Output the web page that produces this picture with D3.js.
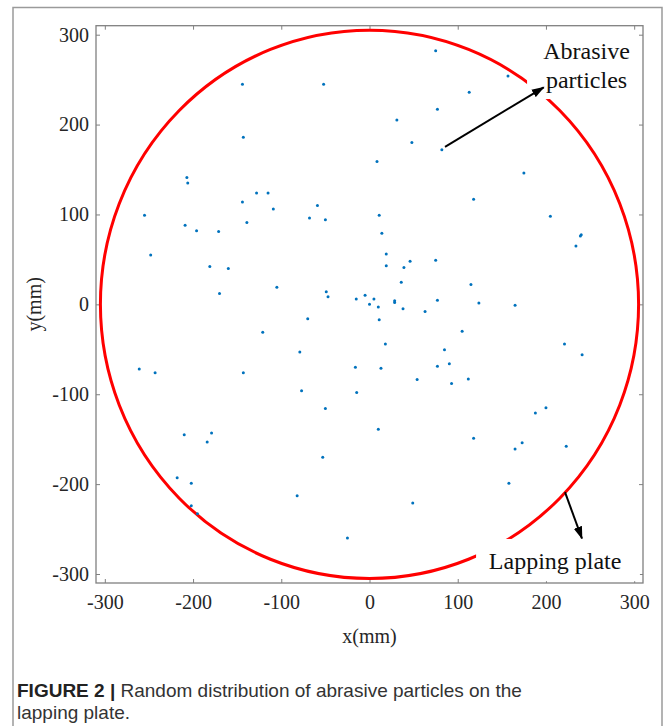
<!DOCTYPE html>
<html>
<head>
<meta charset="utf-8">
<script src="https://cdn.jsdelivr.net/npm/d3@7"></script>
<style>
    body { margin: 0; background: #fff; }
</style>
</head>
<body>
<div id="plateSection"></div>
<script>
/**
 * Particle positions on the lapping plate (mm)
 */
const particleX = [
    -144, -52, -143, -207, -206, -128, -115, -144, -59, -109,
    -255, -68, -50, -139, -209, -196, -171, -248, -181, -160,
    -105, -49, -47, -170, -15, -5, 0,
    75, 157, 113, 77, 31, 48, 82, 8.5, 175, 118,
    11, 205, 14, 240, 239, 234, 19, 19, 46, 39,
    75, 36, 115, 5, 28.5, 28.5, 77, 10, 38, 124, 165,
    63, 11, 105, 18, 221, 241, 85, 90.5, 77, 13,
    54, 93, 112, 188, 200, 10, 118, 165, 173, 223, 158, 49,
    -70, -121, -79, -261, -243, -143, -16, -77, -14.5, -50,
    -210, -179, -184, -53, -218, -202, -202, -195, -82, -25
];
const particleY = [
    245, 245, 186, 141, 135, 124, 124, 114, 110, 106,
    99, 96, 94, 91, 88, 82, 81, 55, 42, 40,
    19, 14, 8.5, 12, 6, 10, 0,
    282, 254, 236, 217, 205, 180, 172, 159, 146, 117,
    99, 98, 79, 77.5, 76, 65, 56, 43, 48, 41,
    49, 24.5, 22, 6, 4, 2, 4.5, -3, -5, 1.5, -1,
    -8, -17, -30, -44, -44, -56, -50.5, -66, -69, -71,
    -83.5, -88, -83, -121, -115, -139, -149, -161, -154, -158, -199, -221,
    -16, -31, -53, -72, -76, -76, -70, -96, -98, -116,
    -145, -143, -153, -170, -193, -199, -224, -233, -213, -260
];

/**
 * Plate and axis values
 */
const plateRadius = 305;
const axisDomain = [-310, 310];
const tickValues = [-300, -200, -100, 0, 100, 200, 300];

/**
 * Annotation texts and positions (mm)
 */
const particleLabel = ["Abrasive", "particles"];
const particleLabelAt = [246, 273, 241];
const particleArrow = [[85.6, 175.3], [197.5, 241.5]];
const particleBox = [178.6, 296, 306.5, 228.4];

const plateLabel = "Lapping plate";
const plateLabelAt = [210.4, -294];
const plateArrow = [[221.6, -209], [240.8, -260.5]];
const plateBox = [120.8, -261, 306.5, -308];

const captionBold = "FIGURE 2 |";
const captionLines = [" Random distribution of abrasive particles on the", "lapping plate."];

/**
 * Proportions of the SVG
 */
let svgWidth = 665;
let svgHeight = 726;

let plotLeft = 96;
let plotRight = 643;
let plotTop = 25.7;
let plotBottom = 583;

let fontSize = 20;
let serif = "'Liberation Serif', 'Times New Roman', serif";
let sans = "'Liberation Sans', Arial, Helvetica, sans-serif";

const x = d3.scaleLinear().domain(axisDomain).range([plotLeft, plotRight]);
const y = d3.scaleLinear().domain(axisDomain).range([plotBottom, plotTop]);

initSVG();
drawAxes();
drawPlate();
drawParticles();
drawAnnotations();
drawCaption();

/**
 * Initialize the SVG, the frame and the arrow marker
 */
function initSVG() {
    const svg = d3.select("#plateSection")
        .append("svg")
        .attr("id", "plateSvg")
        .attr("width", svgWidth)
        .attr("height", svgHeight);

    // figure frame
    svg.append("rect")
        .attr("x", 13)
        .attr("y", 7.5)
        .attr("width", 649)
        .attr("height", svgHeight + 10)
        .attr("fill", "none")
        .attr("stroke", "#9a9a9a")
        .attr("stroke-width", 1.5);

    svg.append("defs").append("marker")
        .attr("id", "arrowHead")
        .attr("viewBox", "0 0 12 8")
        .attr("refX", 11)
        .attr("refY", 4)
        .attr("markerUnits", "userSpaceOnUse")
        .attr("markerWidth", 13)
        .attr("markerHeight", 9)
        .attr("orient", "auto")
        .append("path")
        .attr("d", "M0,0 L12,4 L0,8 Z")
        .attr("fill", "black");
}

/**
 * Draws the axis box, the inward ticks and the labels
 */
function drawAxes() {
    const svg = d3.select("#plateSvg");
    // plain hyphen for negatives, like the original
    const fmt = d => String(d);

    const bottom = svg.append("g")
        .attr("transform", `translate(0,${plotBottom})`)
        .call(d3.axisBottom(x).tickValues(tickValues).tickSize(-4).tickPadding(12).tickFormat(fmt));
    const left = svg.append("g")
        .attr("transform", `translate(${plotLeft},0)`)
        .call(d3.axisLeft(y).tickValues(tickValues).tickSize(-4).tickPadding(7).tickFormat(fmt));
    const top = svg.append("g")
        .attr("transform", `translate(0,${plotTop})`)
        .call(d3.axisTop(x).tickValues(tickValues).tickSize(-4).tickFormat(""));
    const right = svg.append("g")
        .attr("transform", `translate(${plotRight},0)`)
        .call(d3.axisRight(y).tickValues(tickValues).tickSize(-4).tickFormat(""));

    [bottom, left, top, right].forEach(g => {
        g.select(".domain").remove();
        g.selectAll(".tick line").attr("stroke", "#808080").attr("stroke-width", 1);
        g.selectAll(".tick text")
            .attr("fill", "#262626")
            .attr("font-family", serif)
            .attr("font-size", fontSize);
    });

    svg.append("rect")
        .attr("x", plotLeft)
        .attr("y", plotTop)
        .attr("width", plotRight - plotLeft)
        .attr("height", plotBottom - plotTop)
        .attr("fill", "none")
        .attr("stroke", "#808080")
        .attr("stroke-width", 1.3);

    svg.append("text")
        .attr("x", x(0))
        .attr("y", 643)
        .attr("text-anchor", "middle")
        .attr("font-family", serif)
        .attr("font-size", fontSize)
        .attr("fill", "#262626")
        .text("x(mm)");

    svg.append("text")
        .attr("transform", `translate(41,${y(0)}) rotate(-90)`)
        .attr("text-anchor", "middle")
        .attr("font-family", serif)
        .attr("font-size", fontSize)
        .attr("fill", "#262626")
        .text("y(mm)");
}

/**
 * Draws the plate outline
 */
function drawPlate() {
    d3.select("#plateSvg").append("ellipse")
        .attr("cx", x(0))
        .attr("cy", y(0))
        .attr("rx", x(plateRadius) - x(0))
        .attr("ry", y(0) - y(plateRadius))
        .attr("fill", "none")
        .attr("stroke", "#ff0000")
        .attr("stroke-width", 3);
}

/**
 * Draws the particles
 */
function drawParticles() {
    d3.select("#plateSvg").append("g")
        .selectAll("circle")
        .data(particleX)
        .enter()
        .append("circle")
        .attr("cx", d => x(d))
        .attr("cy", (_, i) => y(particleY[i]))
        .attr("r", 1.5)
        .attr("fill", "#0072bd");
}

/**
 * Draws the labels, their white boxes and arrows
 */
function drawAnnotations() {
    const svg = d3.select("#plateSvg");

    [particleBox, plateBox].forEach(b => {
        svg.append("rect")
            .attr("x", x(b[0]))
            .attr("y", y(b[1]))
            .attr("width", x(b[2]) - x(b[0]))
            .attr("height", y(b[3]) - y(b[1]))
            .attr("fill", "white");
    });

    particleLabel.forEach((t, i) => {
        svg.append("text")
            .attr("x", x(particleLabelAt[0]))
            .attr("y", y(particleLabelAt[i + 1]))
            .attr("text-anchor", "middle")
            .attr("font-family", serif)
            .attr("font-size", 24)
            .attr("fill", "#111")
            .text(t);
    });

    svg.append("text")
        .attr("x", x(plateLabelAt[0]))
        .attr("y", y(plateLabelAt[1]))
        .attr("text-anchor", "middle")
        .attr("font-family", serif)
        .attr("font-size", 24)
        .attr("fill", "#111")
        .text(plateLabel);

    [particleArrow, plateArrow].forEach(a => {
        svg.append("line")
            .attr("x1", x(a[0][0]))
            .attr("y1", y(a[0][1]))
            .attr("x2", x(a[1][0]))
            .attr("y2", y(a[1][1]))
            .attr("stroke", "black")
            .attr("stroke-width", 2)
            .attr("marker-end", "url(#arrowHead)");
    });
}

/**
 * Draws the figure caption
 */
function drawCaption() {
    const svg = d3.select("#plateSvg");

    const first = svg.append("text")
        .attr("x", 17)
        .attr("y", 697)
        .attr("font-family", sans)
        .attr("font-size", 19)
        .attr("fill", "#333");
    first.append("tspan")
        .attr("font-weight", "bold")
        .attr("fill", "#222")
        .text(captionBold);
    first.append("tspan")
        .text(captionLines[0]);

    svg.append("text")
        .attr("x", 17)
        .attr("y", 719)
        .attr("font-family", sans)
        .attr("font-size", 19)
        .attr("fill", "#333")
        .text(captionLines[1]);
}
</script>
</body>
</html>
